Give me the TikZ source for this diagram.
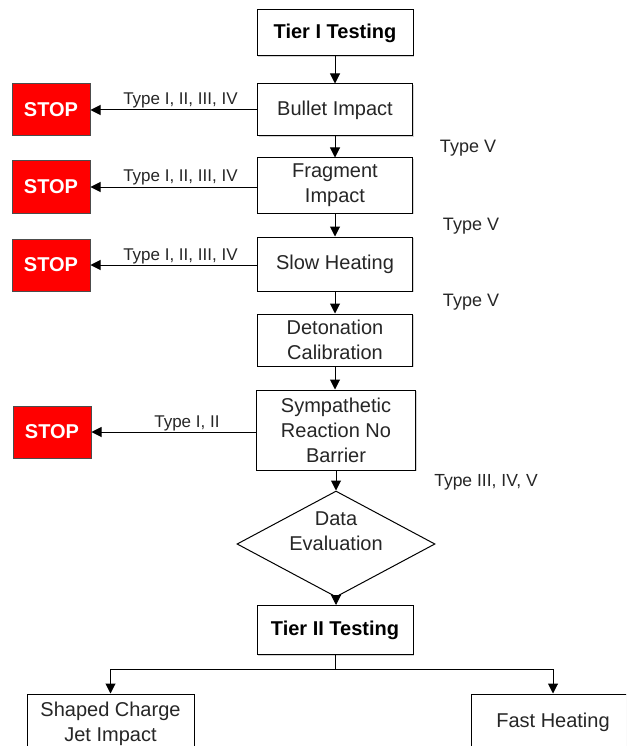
\documentclass[tikz,border=0pt]{standalone}
\usepackage{fontspec}
\setmainfont{Liberation Sans}
\usetikzlibrary{shapes.geometric,arrows.meta,shadows}

\tikzset{
  box/.style={draw, fill=white, line width=1pt, align=center, inner sep=0pt,
    text=black!85, minimum width=155pt, font=\fontsize{20}{25}\selectfont,
    drop shadow={shadow xshift=1.2pt, shadow yshift=-1.2pt, opacity=.35}},
  tierbox/.style={box, text=black, minimum width=156pt,
    font=\fontsize{20}{25}\selectfont\bfseries},
  stopbox/.style={draw=black!70, line width=1pt, fill=red, text=white,
    minimum width=78pt, minimum height=52pt, font=\fontsize{20}{24}\selectfont\bfseries},
  decision/.style={diamond, shape aspect=1.87, draw, fill=white, line width=1pt, inner sep=0pt,
    text=black!85, minimum width=198pt, minimum height=106pt, font=\fontsize{20}{25}\selectfont},
  lbl/.style={font=\fontsize{17}{19}\selectfont, text=black!85, inner sep=0pt},
  arr/.style={-{Triangle[length=10pt,width=10pt]}, line width=1pt},
}

\begin{document}
\begin{tikzpicture}[x=1pt,y=-1pt]
  \clip (0,0) rectangle (626,746);

  % main column
  \node[tierbox, minimum height=46pt] (tier1) at (335,33) {Tier I Testing};
  \node[box, minimum height=52pt] (bullet) at (335,110) {Bullet Impact};
  \node[box, minimum height=55pt] (frag) at (335,185.5) {Fragment\\Impact};
  \node[box, minimum height=54pt] (slow) at (335,264) {Slow Heating};
  \node[box, minimum height=52pt] (deton) at (335,340) {Detonation\\Calibration};
  \node[box, minimum width=159pt, minimum height=80pt] (symp) at (336,430) {Sympathetic\\Reaction No\\Barrier};
  \node[decision] (eval) at (336,544) {\raisebox{6pt}[0pt][0pt]{\begin{tabular}{@{}c@{}}Data\\Evaluation\end{tabular}}};
  \node[tierbox, minimum height=49pt] (tier2) at (335,630) {Tier II Testing};
  \node[box, minimum width=167pt, minimum height=60pt] (shaped) at (110.5,724) {Shaped Charge\\Jet Impact};
  \node[box, minimum width=164pt, minimum height=56pt] (fast) at (553,722) {Fast Heating};

  % stops
  \node[stopbox] (stop1) at (51,110) {STOP};
  \node[stopbox] (stop2) at (51,187) {STOP};
  \node[stopbox] (stop3) at (51,265) {STOP};
  \node[stopbox] (stop4) at (52,432) {STOP};

  % pass labels
  \node[lbl, font=\fontsize{18}{20}\selectfont] (pass1) at (468,148) {Type V};
  \node[lbl, font=\fontsize{18}{20}\selectfont] (pass2) at (471,226) {Type V};
  \node[lbl, font=\fontsize{18}{20}\selectfont] (pass3) at (471,302) {Type V};
  \node[lbl, font=\fontsize{17.5}{20}\selectfont] (pass4) at (486,482) {Type III, IV, V};

  \draw[arr] (tier1) -- (bullet);
  \draw[arr] (bullet) -- (frag);
  \draw[arr] (frag) -- (slow);
  \draw[arr] (slow) -- (deton);
  \draw[arr] (deton.south) -- (deton.south |- symp.north);
  \draw[arr] (symp.south) -- (symp.south |- eval.north);
  \draw[arr] (eval.south) -- (eval.south |- tier2.north);

  \draw[arr] (bullet.west) -- node[lbl, pos=.46, anchor=base, yshift=5pt] {Type I, II, III, IV} (stop1.east);
  \draw[arr] (frag.west |- stop2) -- node[lbl, pos=.46, anchor=base, yshift=5pt] {Type I, II, III, IV} (stop2.east);
  \draw[arr] (slow.west |- stop3) -- node[lbl, pos=.46, anchor=base, yshift=5pt] {Type I, II, III, IV} (stop3.east);
  \draw[arr] (symp.west |- stop4) -- node[lbl, pos=.42, anchor=base, yshift=5pt] {Type I, II} (stop4.east);

  \coordinate (split) at (335,669);
  \draw[line width=1pt] (tier2.south) -- (split);
  \draw[arr] (split) -| (shaped.north);
  \draw[arr] (split) -| (fast.north);
\end{tikzpicture}
\end{document}
